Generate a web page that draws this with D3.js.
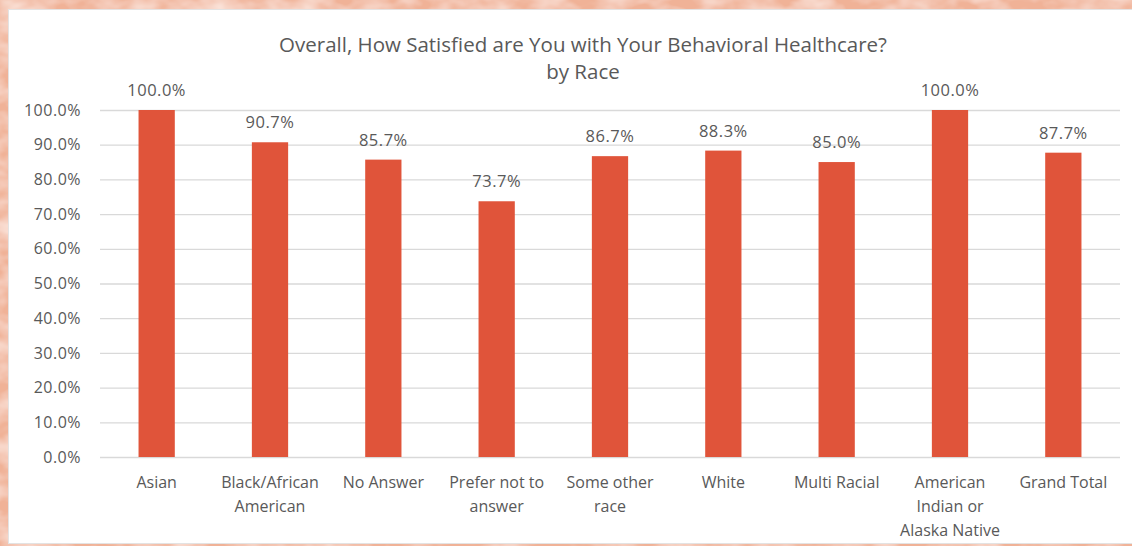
<!DOCTYPE html>
<html>
<head>
<meta charset="utf-8">
<script src="https://cdn.jsdelivr.net/npm/d3@7"></script>
<style>
  html, body { margin: 0; padding: 0; background: #f3bba3; }
  svg { display: block; }
</style>
</head>
<body>
<svg id="chart" width="1132" height="546"></svg>
<script>
// Satisfaction share by race
const categories = [
  ["Asian"],
  ["Black/African", "American"],
  ["No Answer"],
  ["Prefer not to", "answer"],
  ["Some other", "race"],
  ["White"],
  ["Multi Racial"],
  ["American", "Indian or", "Alaska Native"],
  ["Grand Total"]
];
const values = [100.0, 90.7, 85.7, 73.7, 86.7, 88.3, 85.0, 100.0, 87.7];
const yTicks = [0, 10, 20, 30, 40, 50, 60, 70, 80, 90, 100];
const titleLines = ["Overall, How Satisfied are You with Your Behavioral Healthcare?", "by Race"];

const W = 1132, H = 546;
const svg = d3.select("#chart");
const font = "'Open Sans', Roboto, sans-serif";
const textColor = "#595959";

// textured peach backdrop
const defs = svg.append("defs");
const f = defs.append("filter").attr("id", "grain").attr("x", 0).attr("y", 0).attr("width", "100%").attr("height", "100%");
f.append("feTurbulence").attr("type", "fractalNoise").attr("baseFrequency", "0.03 0.05").attr("numOctaves", 3).attr("seed", 4).attr("result", "noise");
f.append("feColorMatrix").attr("in", "noise").attr("type", "matrix")
  .attr("values", "0 0 0 0 1  0 0 0 0 0.9  0 0 0 0 0.85  0 0 0 -1.2 0.8").attr("result", "spots");
f.append("feComposite").attr("in", "spots").attr("in2", "SourceGraphic").attr("operator", "over");

svg.append("rect").attr("width", W).attr("height", H).attr("fill", "#f0b297");
svg.append("rect").attr("width", W).attr("height", H).attr("fill", "#f0b297").attr("filter", "url(#grain)");

// chart panel
svg.append("rect")
  .attr("x", 8.5).attr("y", 9.5).attr("width", W - 8).attr("height", 534)
  .attr("fill", "#ffffff").attr("stroke", "#e3e3e3");

const margin = { left: 100, right: 12, top: 110, bottom: 89 };
const x = d3.scaleBand()
  .domain(d3.range(categories.length))
  .range([margin.left, W - margin.right])
  .paddingInner(0.68).paddingOuter(0.34);
const y = d3.scaleLinear().domain([0, 100]).range([H - margin.bottom, margin.top]);

// gridlines and y labels
const yAxis = d3.axisLeft(y)
  .tickValues(yTicks)
  .tickSize(-(W - margin.right - margin.left))
  .tickPadding(19)
  .tickFormat(d => d.toFixed(1) + "%");
const gy = svg.append("g").attr("transform", `translate(${margin.left},0)`).call(yAxis);
gy.select(".domain").remove();
gy.selectAll(".tick line").attr("stroke", "#d9d9d9").attr("stroke-width", 1.3);
gy.selectAll(".tick text")
  .attr("fill", textColor).style("font-family", font).style("font-size", "16px")
  .style("letter-spacing", "0.5px");

// bars
svg.append("g").selectAll("rect").data(values).join("rect")
  .attr("x", (d, i) => x(i))
  .attr("y", d => y(d))
  .attr("width", x.bandwidth())
  .attr("height", d => y(0) - y(d))
  .attr("fill", "#e0543a");

// value labels
svg.append("g").selectAll("text").data(values).join("text")
  .attr("x", (d, i) => x(i) + x.bandwidth() / 2)
  .attr("y", d => y(d) - 14)
  .attr("text-anchor", "middle")
  .attr("fill", textColor)
  .style("font-family", font).style("font-size", "16.5px")
  .style("letter-spacing", "0.5px")
  .text(d => d.toFixed(1) + "%");

// category labels
const cat = svg.append("g").selectAll("text").data(categories).join("text")
  .attr("text-anchor", "middle")
  .attr("fill", textColor)
  .style("font-family", font).style("font-size", "16px");
cat.each(function(lines, i) {
  const t = d3.select(this);
  lines.forEach((ln, k) => {
    t.append("tspan")
      .attr("x", x(i) + x.bandwidth() / 2)
      .attr("y", 488 + k * 24)
      .text(ln);
  });
});

// title
svg.append("g").selectAll("text").data(titleLines).join("text")
  .attr("x", 583)
  .attr("y", (d, i) => 52 + i * 27)
  .attr("text-anchor", "middle")
  .attr("fill", textColor)
  .style("font-family", font).style("font-size", "20.5px")
  .text(d => d);
</script>
</body>
</html>
